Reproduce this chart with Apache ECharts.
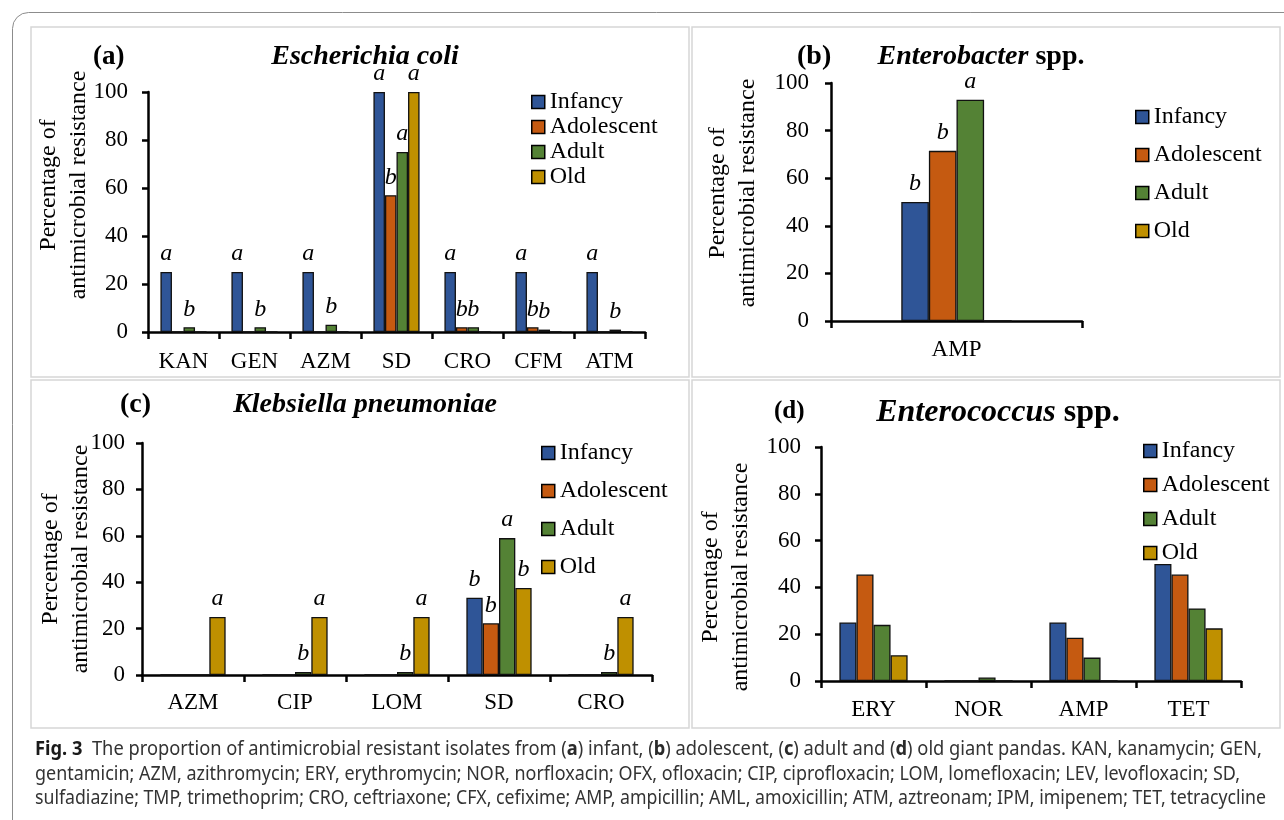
<!DOCTYPE html>
<html>
<head>
<meta charset="utf-8">
<script src="https://cdn.jsdelivr.net/npm/echarts@6/dist/echarts.min.js"></script>
<style>html,body{margin:0;padding:0;background:#fff}#c{width:1284px;height:820px}</style>
</head>
<body>
<div id="c"></div>
<script>
// ---------- data ----------
const groups = ['Infancy', 'Adolescent', 'Adult', 'Old'];
const groupColors = ['#2F5597', '#C55A11', '#548235', '#BF9000'];
const yTicks = [0, 20, 40, 60, 80, 100];

// (a) Escherichia coli
const ecoliDrugs = ['KAN', 'GEN', 'AZM', 'SD', 'CRO', 'CFM', 'ATM'];
const ecoliInfancy = [25, 25, 25, 100, 25, 25, 25];
const ecoliAdolescent = [0, 0, 0, 57, 2, 2, 0];
const ecoliAdult = [2, 2, 3, 75, 2, 1, 1];
const ecoliOld = [0, 0, 0, 100, 0, 0, 0];
const ecoliInfancyLetters = ['a', 'a', 'a', 'a', 'a', 'a', 'a'];
const ecoliAdolescentLetters = ['', '', '', 'b', 'b', 'b', ''];
const ecoliAdultLetters = ['b', 'b', 'b', 'a', 'b', 'b', 'b'];
const ecoliOldLetters = ['', '', '', 'a', '', '', ''];

// (b) Enterobacter spp.
const enterobacterDrugs = ['AMP'];
const enterobacterInfancy = [50];
const enterobacterAdolescent = [71.5];
const enterobacterAdult = [93];
const enterobacterOld = [0];
const enterobacterInfancyLetters = ['b'];
const enterobacterAdolescentLetters = ['b'];
const enterobacterAdultLetters = ['a'];
const enterobacterOldLetters = [''];

// (c) Klebsiella pneumoniae
const klebDrugs = ['AZM', 'CIP', 'LOM', 'SD', 'CRO'];
const klebInfancy = [0, 0, 0, 33.3, 0];
const klebAdolescent = [0, 0, 0, 22.3, 0];
const klebAdult = [0, 1.3, 1.3, 59, 1.3];
const klebOld = [25, 25, 25, 37.5, 25];
const klebInfancyLetters = ['', '', '', 'b', ''];
const klebAdolescentLetters = ['', '', '', 'b', ''];
const klebAdultLetters = ['', 'b', 'b', 'a', 'b'];
const klebOldLetters = ['a', 'a', 'a', 'b', 'a'];

// (d) Enterococcus spp.
const enteroDrugs = ['ERY', 'NOR', 'AMP', 'TET'];
const enteroInfancy = [25, 0, 25, 50];
const enteroAdolescent = [45.5, 0, 18.5, 45.5];
const enteroAdult = [24, 1.5, 10, 31];
const enteroOld = [11, 0, 0, 22.5];
const enteroNoLetters = ['', '', '', ''];

// caption
const captionLine1 = '{f|Fig. 3}  The proportion of antimicrobial resistant isolates from ({b|a}) infant, ({b|b}) adolescent, ({b|c}) adult and ({b|d}) old giant pandas. KAN, kanamycin; GEN,';
const captionLine2 = 'gentamicin; AZM, azithromycin; ERY, erythromycin; NOR, norfloxacin; OFX, ofloxacin; CIP, ciprofloxacin; LOM, lomefloxacin; LEV, levofloxacin; SD,';
const captionLine3 = 'sulfadiazine; TMP, trimethoprim; CRO, ceftriaxone; CFX, cefixime; AMP, ampicillin; AML, amoxicillin; ATM, aztreonam; IPM, imipenem; TET, tetracycline';

// ---------- layout / style ----------
const SERIF = 'Liberation Serif';
const CAPFONT = 'Noto Sans';
const CAPSIZE = 19;
const panels = [
  { grid: { left: 148, top: 92, width: 497, height: 240 }, gap: '35%', drugs: ecoliDrugs,
    vals: [ecoliInfancy, ecoliAdolescent, ecoliAdult, ecoliOld],
    lets: [ecoliInfancyLetters, ecoliAdolescentLetters, ecoliAdultLetters, ecoliOldLetters],
    legend: { left: 531, top: 90, itemGap: 1 }, xMargin: 18, yMargin: 20 },
  { grid: { left: 831, top: 83, width: 251, height: 238 }, gap: '56%', drugs: enterobacterDrugs,
    vals: [enterobacterInfancy, enterobacterAdolescent, enterobacterAdult, enterobacterOld],
    lets: [enterobacterInfancyLetters, enterobacterAdolescentLetters, enterobacterAdultLetters, enterobacterOldLetters],
    legend: { left: 1135, top: 105, itemGap: 14 }, xMargin: 17, yMargin: 22 },
  { grid: { left: 142, top: 443, width: 510, height: 232 }, gap: '36%', drugs: klebDrugs,
    vals: [klebInfancy, klebAdolescent, klebAdult, klebOld],
    lets: [klebInfancyLetters, klebAdolescentLetters, klebAdultLetters, klebOldLetters],
    legend: { left: 541, top: 441, itemGap: 14 }, xMargin: 16, yMargin: 17 },
  { grid: { left: 821, top: 447, width: 420, height: 234 }, gap: '35%', drugs: enteroDrugs,
    vals: [enteroInfancy, enteroAdolescent, enteroAdult, enteroOld],
    lets: [enteroNoLetters, enteroNoLetters, enteroNoLetters, enteroNoLetters],
    legend: { left: 1143, top: 439, itemGap: 10 }, xMargin: 17, yMargin: 20 }
];

const grids = [], xAxes = [], yAxes = [], legends = [], series = [];
panels.forEach((p, gi) => {
  grids.push(Object.assign({ containLabel: false }, p.grid));
  xAxes.push({
    type: 'category', gridIndex: gi, data: p.drugs,
    axisLine: { lineStyle: { color: '#000', width: 2.5 } },
    axisTick: { show: true, length: 7, lineStyle: { color: '#000', width: 2.5 } },
    axisLabel: { fontFamily: SERIF, fontSize: 23, color: '#000', margin: p.xMargin },
    splitLine: { show: false }
  });
  yAxes.push({
    type: 'value', gridIndex: gi, min: yTicks[0], max: yTicks[yTicks.length - 1], interval: yTicks[1] - yTicks[0],
    axisLine: { show: true, lineStyle: { color: '#000', width: 2.5 } },
    axisTick: { show: true, length: 6, lineStyle: { color: '#000', width: 2.5 } },
    axisLabel: { fontFamily: SERIF, fontSize: 23, color: '#000', margin: p.yMargin },
    splitLine: { show: false }
  });
  legends.push({
    orient: 'vertical', left: p.legend.left, top: p.legend.top, itemGap: p.legend.itemGap, padding: 0,
    itemWidth: 13, itemHeight: 13, icon: 'rect', data: groups, selectedMode: false,
    itemStyle: { borderColor: '#000', borderWidth: 1.5 },
    textStyle: { fontFamily: SERIF, fontSize: 24, color: '#000', lineHeight: 24 }
  });
  groups.forEach((g, k) => {
    series.push({
      name: g, type: 'bar', xAxisIndex: gi, yAxisIndex: gi,
      barGap: '0%', barCategoryGap: p.gap,
      itemStyle: { color: groupColors[k], borderColor: '#111', borderWidth: 1.3 },
      label: { position: 'top', distance: 6, fontFamily: SERIF, fontStyle: 'italic', fontSize: 24, color: '#000' },
      data: p.vals[k].map((v, i) => ({
        value: v,
        label: { show: !!p.lets[k][i], formatter: p.lets[k][i] || '' }
      }))
    });
  });
});

// caption: condensed to the reference line widths
const ctx = document.createElement('canvas').getContext('2d');
function segWidth(text, weight) { ctx.font = weight + ' ' + CAPSIZE + 'px "' + CAPFONT + '"'; return ctx.measureText(text).width; }
function richWidth(str) {
  let w = 0; const re = /\{(\w)\|([^}]*)\}/g; let last = 0, m;
  while ((m = re.exec(str))) { w += segWidth(str.slice(last, m.index), 'normal'); w += segWidth(m[2], 'bold'); last = re.lastIndex; }
  return w + segWidth(str.slice(last), 'normal');
}
const capRich = {
  f: { fontFamily: CAPFONT, fontSize: CAPSIZE, fontWeight: 'bold', fill: '#1a1a1a' },
  b: { fontFamily: CAPFONT, fontSize: CAPSIZE, fontWeight: 'bold', fill: '#2a2a2a' }
};
function capText(txt, y, targetWidth) {
  return { type: 'text', x: 35, y: y, scaleX: targetWidth / richWidth(txt), silent: true,
    style: { text: txt, rich: capRich, fontFamily: CAPFONT, fontSize: CAPSIZE, fill: '#333', align: 'left', verticalAlign: 'middle' } };
}
function label(txt, x, y, size) {
  return { type: 'text', x: x, y: y, silent: true,
    style: { text: txt, fontFamily: SERIF, fontSize: size, fontWeight: 'bold', fill: '#000', align: 'left', verticalAlign: 'middle' } };
}
function yName(x, y) {
  return { type: 'text', x: x, y: y, rotation: Math.PI / 2, silent: true,
    style: { text: 'Percentage of\nantimicrobial resistance', fontFamily: SERIF, fontSize: 24, lineHeight: 30, fill: '#000', align: 'center', verticalAlign: 'middle' } };
}
function box(x, y, w, h) {
  return { type: 'rect', silent: true, shape: { x: x, y: y, width: w, height: h }, style: { fill: 'none', stroke: '#d6d6d6', lineWidth: 1.5 } };
}

const graphics = [
  { type: 'rect', silent: true, shape: { x: 12.5, y: 12.5, width: 1320, height: 860, r: 16 }, style: { fill: 'none', stroke: '#8c8c8c', lineWidth: 1 } },
  box(31, 27, 658, 350), box(692, 27, 588, 350), box(31, 380, 658, 348), box(692, 380, 588, 348),
  label('(a)', 93, 57, 27),
  { type: 'text', x: 365, y: 57, silent: true, style: { text: 'Escherichia coli', fontFamily: SERIF, fontSize: 28, fontWeight: 'bold', fontStyle: 'italic', fill: '#000', align: 'center', verticalAlign: 'middle' } },
  label('(b)', 797, 57, 28),
  { type: 'text', x: 981, y: 57, silent: true, style: { text: '{i|Enterobacter} spp.', fontFamily: SERIF, fontSize: 28, fontWeight: 'bold', fill: '#000', align: 'center', verticalAlign: 'middle',
      rich: { i: { fontFamily: SERIF, fontSize: 28, fontWeight: 'bold', fontStyle: 'italic', fill: '#000' } } } },
  label('(c)', 120, 405, 28),
  { type: 'text', x: 365, y: 405, silent: true, style: { text: 'Klebsiella pneumoniae', fontFamily: SERIF, fontSize: 28, fontWeight: 'bold', fontStyle: 'italic', fill: '#000', align: 'center', verticalAlign: 'middle' } },
  label('(d)', 774, 412, 25),
  { type: 'text', x: 998, y: 413, silent: true, style: { text: '{i|Enterococcus} spp.', fontFamily: SERIF, fontSize: 32, fontWeight: 'bold', fill: '#000', align: 'center', verticalAlign: 'middle',
      rich: { i: { fontFamily: SERIF, fontSize: 32, fontWeight: 'bold', fontStyle: 'italic', fill: '#000' } } } },
  yName(64, 185), yName(733, 193), yName(66, 559), yName(726, 577),
  capText(captionLine1, 750, 1227), capText(captionLine2, 775, 1205), capText(captionLine3, 799, 1231)
];

const chart = echarts.init(document.getElementById('c'), null, { renderer: 'canvas' });
chart.setOption({
  backgroundColor: '#fff',
  animation: false,
  grid: grids, xAxis: xAxes, yAxis: yAxes, legend: legends, series: series,
  graphic: graphics
});
</script>
</body>
</html>
